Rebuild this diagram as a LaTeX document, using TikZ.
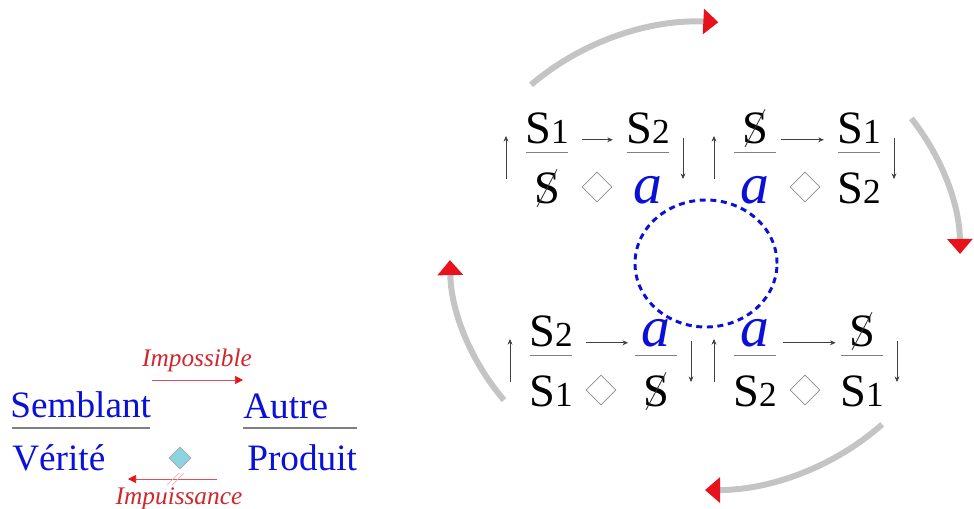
\documentclass[tikz,border=0pt]{standalone}
\usepackage{fontspec}
\setmainfont{Liberation Serif}
\usepackage{graphicx}
\usetikzlibrary{arrows.meta,shapes.geometric,calc}
\definecolor{lacanblue}{HTML}{0A10D8}
\definecolor{tipred}{HTML}{E8121C}
\definecolor{labred}{HTML}{D0262C}
\definecolor{cyclegray}{HTML}{C4C4C4}
\definecolor{bargray}{HTML}{7F7F7F}
\definecolor{lozblue}{HTML}{8DD4E2}
\newcommand\Sone{S{\fontsize{25}{25}\selectfont 1}}
\newcommand\Stwo{S{\fontsize{25}{25}\selectfont 2}}
\newcommand\sbar{\ooalign{S\cr\hidewidth\raisebox{-0.09em}{\color{black!80}\rotatebox{62}{\rule{0.92em}{0.6pt}}}\hidewidth\cr}}
\newcommand\aobj{{\color{lacanblue}\fontsize{41}{41}\selectfont\itshape a}}

\begin{document}
\begin{tikzpicture}[x=0.025cm, y=0.025cm,
 term/.style={anchor=base, inner sep=0pt, font=\fontsize{33}{36}\selectfont},
 word/.style={anchor=base west, inner sep=0pt, text=lacanblue, font=\fontsize{26.5}{30}\selectfont},
 note/.style={anchor=base, inner sep=0pt, text=labred, font=\fontsize{18}{20}\selectfont\itshape},
 fracbar/.style={draw=bargray, line width=0.7pt},
 wordbar/.style={draw=bargray, line width=1.5pt},
 tick/.style={draw=black!75, line width=0.5pt, -{Stealth[length=4pt, width=3.5pt]}},
 lozenge/.style={diamond, draw=black!45, line width=0.5pt, minimum width=0.75cm, minimum height=0.75cm, inner sep=0pt},
 redarrow/.style={draw=labred!80, line width=0.5pt, -{Triangle[length=0.2cm, width=0.2cm, color=tipred]}},
 turn/.style={draw=cyclegray, line width=0.15cm, -{Triangle[length=0.375cm, width=0.62cm, color=tipred]}}]
\useasboundingbox (0,0) rectangle (974,-508);

% the four places
\node[word] (semblant) at (10,-417)  {Semblant};
\node[word] (autre)    at (243,-418) {Autre};
\node[word] (verite)   at (12,-470)  {Vérité};
\node[word] (produit)  at (247,-470) {Produit};
\draw[wordbar] (12,-428) -- (150,-428);
\draw[wordbar] (243,-428) -- (357,-428);
\node[lozenge, fill=lozblue, draw=black!35, minimum width=0.55cm, minimum height=0.55cm] (loz) at (180,-458) {};
\node[note] (imposs) at (197,-366) {Impossible};
\node[note] (impuis) at (179,-504) {Impuissance};
\coordinate (impA) at (152,-380);
\coordinate (impB) at (243,-380);
\coordinate (powA) at (217,-479);
\coordinate (powB) at (128,-479);
\draw[redarrow] (impA) -- (impB);
\draw[redarrow] (powA) -- (powB);
\draw[labred!35, line width=0.5pt] (167,-485) -- (179,-473) (172,-485) -- (184,-473);

% the four discourses
\foreach \q/\L/\R/\nb/\tA/\tB/\tC/\tD in {
  q1/547/648/-143/\Sone/\Stwo/\sbar/\aobj,
  q2/755/859/-143/\sbar/\Sone/\aobj/\Stwo,
  q3/551/656/-346/\Stwo/\aobj/\Sone/\sbar,
  q4/755/862/-346/\aobj/\sbar/\Stwo/\Sone} {
  \node[term] (\q-ag) at (\L,\nb)    {\tA};
  \node[term] (\q-ot) at (\R,\nb)    {\tB};
  \node[term] (\q-tr) at (\L,\nb-60) {\tC};
  \node[term] (\q-pr) at (\R,\nb-60) {\tD};
  \node[lozenge] (\q-dia) at (\L+50,\nb-44) {};
  \draw[fracbar] ([shift={(-21,-9)}]\q-ag.base) -- ([shift={(21,-9)}]\q-ag.base);
  \draw[fracbar] ([shift={(-21,-9)}]\q-ot.base) -- ([shift={(21,-9)}]\q-ot.base);
  \draw[tick, shorten <=0.33cm, shorten >=0.33cm] (\q-ag.mid east) -- (\q-ag.mid east -| \q-ot.west);
  \draw[tick] (\L-41,\nb-36) -- (\L-41,\nb+7);
  \draw[tick] (\R+35,\nb+5) -- (\R+35,\nb-36);
}

% rotation of the quarter turns
\node[ellipse, draw=lacanblue, line width=2.1pt, dash pattern=on 0.15cm off 0.115cm,
  minimum width=3.55cm, minimum height=3.175cm] (hole) at (706,-263.5) {};
\coordinate (ctr) at (705,-256);
\foreach \a/\b in {133/87, 36/0.5, -46/-90, 218/181}
  \draw[turn] ([shift={(\a:6.375cm and 5.85cm)}]ctr) arc[start angle=\a, end angle=\b, x radius=6.375cm, y radius=5.85cm];
\end{tikzpicture}
\end{document}
